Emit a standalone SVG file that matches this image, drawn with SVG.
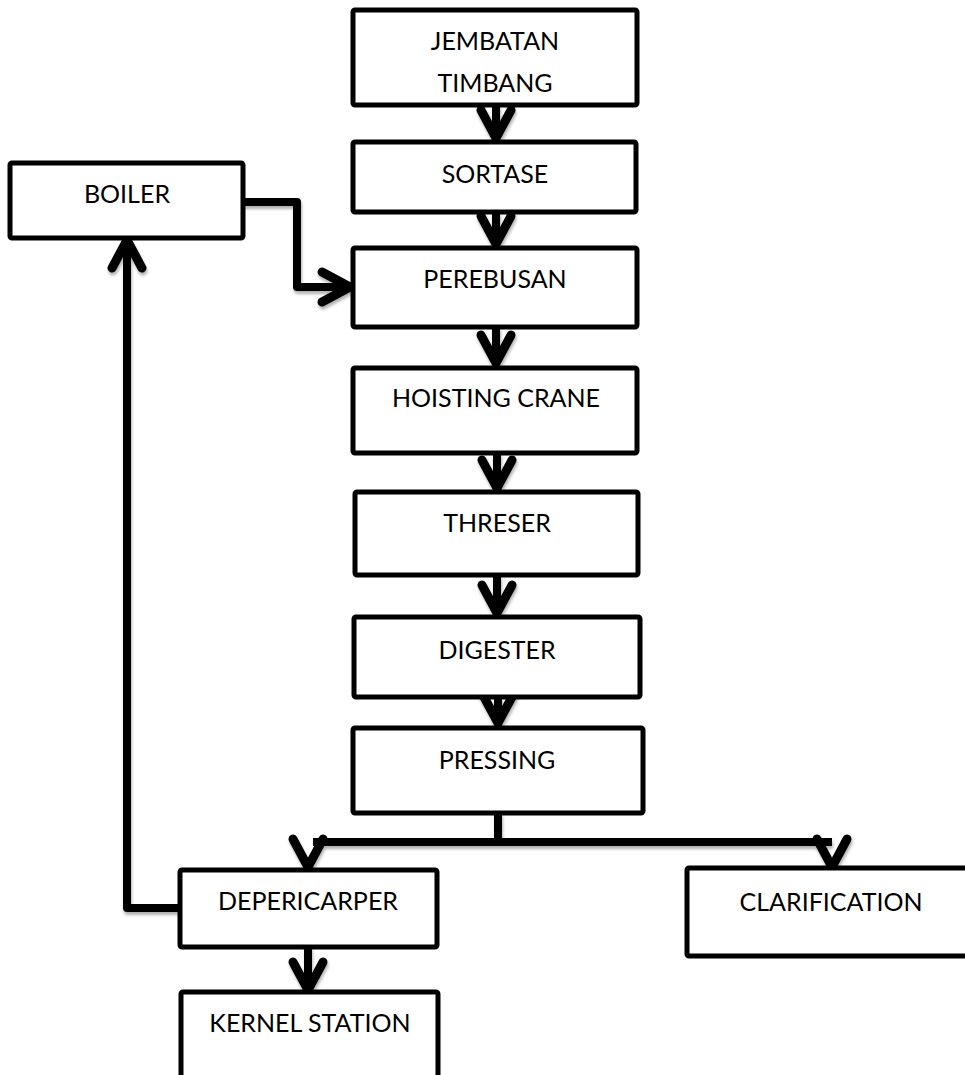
<svg xmlns="http://www.w3.org/2000/svg" width="965" height="1075" viewBox="0 0 965 1075">
<defs>
<style>
.box{fill:#fff;stroke:#000;stroke-width:5;}
.lbl{font-family:Lato,"Open Sans","Liberation Sans",sans-serif;font-size:25px;fill:#000;text-anchor:middle;}
.ln{fill:none;stroke:#000;stroke-width:8;stroke-linejoin:round;}
.hd{fill:none;stroke:#000;stroke-width:9;stroke-linecap:round;stroke-linejoin:miter;}
</style>
<filter id="sh" x="-20%" y="-20%" width="140%" height="140%">
<feDropShadow dx="1" dy="3" stdDeviation="1.5" flood-color="#000" flood-opacity="0.3"/>
</filter>
</defs>
<rect width="965" height="1075" fill="#fff"/>
<g id="connectors" filter="url(#sh)">
<path class="ln" d="M496,105 V134"/>
<path class="hd" d="M481,110 L496,138 L511,110"/>
<path class="ln" d="M496,212 V240"/>
<path class="hd" d="M481,216 L496,244 L511,216"/>
<path class="ln" d="M496,327 V358"/>
<path class="hd" d="M481,335 L496,363 L511,335"/>
<path class="ln" d="M497,453 V482"/>
<path class="hd" d="M482,460 L497,488 L512,460"/>
<path class="ln" d="M497,575 V607"/>
<path class="hd" d="M482,585 L497,613 L512,585"/>
<path class="ln" d="M498,697 V717"/>
<path class="hd" d="M483,695 L498,723 L513,695"/>
<path class="ln" d="M498,813 V842 M313,842 H832"/>
<path class="hd" d="M293,839 L308,867 L323,839"/>
<path class="hd" d="M817,839 L832,867 L847,839"/>
<path class="ln" d="M308,947 V984"/>
<path class="hd" d="M293,962 L308,990 L323,962"/>
<path class="ln" d="M243,202 H297 V287 H344"/>
<path class="hd" d="M322,272 L350,287 L322,302"/>
<path class="ln" d="M180,908 H127 V246"/>
<path class="hd" d="M112,268 L127,240 L142,268"/>
</g>
<g id="jembatan"><rect class="box" x="353" y="10" width="284" height="95" rx="2"/><text class="lbl" x="495" y="50">JEMBATAN</text><text class="lbl" x="495" y="92">TIMBANG</text></g>
<g id="sortase"><rect class="box" x="353" y="142" width="283" height="70" rx="2"/><text class="lbl" x="495" y="183">SORTASE</text></g>
<g id="boiler"><rect class="box" x="10" y="163" width="233" height="75" rx="2"/><text class="lbl" x="127" y="203">BOILER</text></g>
<g id="perebusan"><rect class="box" x="353" y="248" width="284" height="79" rx="2"/><text class="lbl" x="495" y="288">PEREBUSAN</text></g>
<g id="hoisting"><rect class="box" x="353" y="368" width="284" height="85" rx="2"/><text class="lbl" x="496" y="407">HOISTING CRANE</text></g>
<g id="threser"><rect class="box" x="355" y="492" width="283" height="83" rx="2"/><text class="lbl" x="497" y="532">THRESER</text></g>
<g id="digester"><rect class="box" x="354" y="617" width="286" height="80" rx="2"/><text class="lbl" x="497" y="659">DIGESTER</text></g>
<g id="pressing"><rect class="box" x="353" y="728" width="290" height="85" rx="2"/><text class="lbl" x="497" y="769">PRESSING</text></g>
<g id="depericarper"><rect class="box" x="180" y="870" width="257" height="77" rx="2"/><text class="lbl" x="308" y="910">DEPERICARPER</text></g>
<g id="kernel"><rect class="box" x="181" y="992" width="257" height="100" rx="2"/><text class="lbl" x="310" y="1032">KERNEL STATION</text></g>
<g id="clarification"><rect class="box" x="687" y="868" width="300" height="88" rx="2"/><text class="lbl" x="831" y="911">CLARIFICATION</text></g>
</svg>
